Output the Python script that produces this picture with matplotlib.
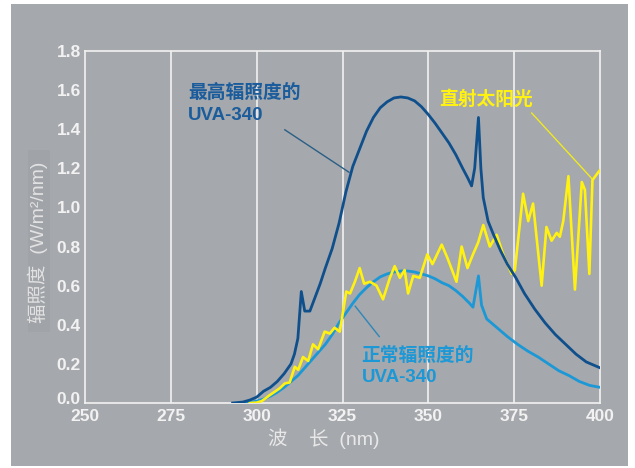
import matplotlib
matplotlib.use("Agg")
import matplotlib.pyplot as plt
import matplotlib.transforms as mtransforms
from matplotlib.patches import Rectangle

# ---------------- data ----------------
x_ticks = [250, 275, 300, 325, 350, 375, 400]
y_ticks = [0.0, 0.2, 0.4, 0.6, 0.8, 1.0, 1.2, 1.4, 1.6, 1.8]

# Peak irradiance UVA-340 (dark blue)
peak_wl = [293, 296, 298, 300, 301, 302, 304, 306, 308, 310, 311, 312, 313, 314,
           315.5, 317, 318.5, 320, 322, 324, 326, 328, 330, 332, 334, 336, 338,
           340, 342, 344, 346, 348, 350, 352, 354, 356, 358, 360, 361.5, 362.6,
           363.5, 364.6, 365.3, 366, 367.4, 369, 371, 373, 375.5, 378, 381, 384,
           387, 390, 393, 396, 400]
peak_val = [0.0, 0.005, 0.015, 0.03, 0.045, 0.06, 0.08, 0.11, 0.15, 0.2, 0.25,
            0.33, 0.57, 0.47, 0.47, 0.54, 0.61, 0.69, 0.79, 0.92, 1.08, 1.21,
            1.3, 1.39, 1.46, 1.51, 1.54, 1.56, 1.565, 1.56, 1.545, 1.515, 1.475,
            1.43, 1.38, 1.33, 1.27, 1.2, 1.15, 1.11, 1.2, 1.46, 1.2, 1.05, 0.93,
            0.86, 0.78, 0.71, 0.64, 0.56, 0.48, 0.41, 0.35, 0.3, 0.25, 0.21, 0.18]

# Normal irradiance UVA-340 (light blue)
norm_wl = [296, 298, 300, 302, 304, 306, 308, 310, 312, 314, 316, 318, 320, 322,
           324, 326, 328, 330, 332, 334, 336, 338, 340, 342, 344, 346, 348, 350,
           352, 354, 356, 358, 360, 362, 363, 364.6, 365.5, 367, 370, 373, 376,
           379, 382, 385, 388, 391, 394, 397, 400]
norm_val = [0.0, 0.003, 0.01, 0.02, 0.035, 0.055, 0.08, 0.11, 0.14, 0.18, 0.22,
            0.26, 0.3, 0.35, 0.41, 0.46, 0.51, 0.555, 0.59, 0.62, 0.645, 0.66,
            0.67, 0.675, 0.675, 0.67, 0.66, 0.65, 0.635, 0.615, 0.6, 0.575, 0.545,
            0.51, 0.49, 0.65, 0.5, 0.43, 0.385, 0.34, 0.3, 0.265, 0.235, 0.2,
            0.165, 0.14, 0.11, 0.09, 0.08]

# Direct sunlight (yellow)
sun_wl = [298, 300, 301.5, 303.8, 306.7, 308.2, 309.6, 311.1, 312.1, 313.5, 315,
          316.4, 317.9, 319.8, 321.3, 322.7, 324.2, 325.0, 326.1, 327.2, 328.6,
          330.0, 331.3, 333.0, 334.9, 336.8, 338.8, 340.2, 341.7, 343.1, 344.1,
          345.6, 347.5, 349.7, 351.2, 353.9, 355.6, 358.2, 359.7, 361.4, 363.0,
          364.5, 366.0, 367.9, 369.9, 372.0, 374.3, 375.2, 377.6, 379.1, 380.5,
          383.0, 384.4, 385.9, 387.4, 388.3, 389.3, 390.8, 392.7, 394.7, 395.6,
          396.9, 397.8, 399.5, 400]
sun_val = [0.0, 0.002, 0.01, 0.04, 0.075, 0.1, 0.105, 0.185, 0.17, 0.235, 0.215,
           0.3, 0.275, 0.365, 0.355, 0.385, 0.365, 0.45, 0.57, 0.56, 0.62, 0.69,
           0.61, 0.62, 0.6, 0.53, 0.64, 0.7, 0.64, 0.68, 0.56, 0.65, 0.64, 0.76,
           0.71, 0.81, 0.74, 0.62, 0.8, 0.69, 0.76, 0.82, 0.91, 0.8, 0.86, 0.75,
           0.66, 0.68, 1.07, 0.93, 1.02, 0.6, 0.9, 0.83, 0.87, 0.85, 0.93, 1.16,
           0.58, 1.13, 1.09, 0.66, 1.14, 1.18, 1.19]

# ---------------- style ----------------
BG = "#a5a8ac"
LINE_W = "#f2f2f2"
DARK = "#0f4f8c"
LIGHT = "#1c98d6"
YELLOW = "#fff212"
FONT = ["Liberation Sans", "Noto Sans CJK SC", "DejaVu Sans"]
plt.rcParams["font.family"] = FONT

W, H = 635, 468
fig = plt.figure(figsize=(W / 100, H / 100), dpi=100)
fig.patch.set_facecolor("white")
fig.patches.append(Rectangle((11 / W, 1 - 466 / H), (628 - 11) / W, (466 - 4) / H,
                             transform=fig.transFigure, facecolor=BG,
                             edgecolor="none", zorder=-10))
# subtle darker band behind the y-axis title
fig.patches.append(Rectangle((28 / W, 1 - 332 / H), 22 / W, (332 - 150) / H,
                             transform=fig.transFigure, facecolor="#a0a3a8",
                             edgecolor="none", zorder=-9))

ax = fig.add_axes([85 / W, 1 - 403 / H, 515 / W, 352 / H])
ax.set_zorder(5)
ax.set_facecolor("none")
ax.set_xlim(250, 400)
ax.set_ylim(0, 1.8)

for xv in x_ticks[1:-1]:
    ax.axvline(xv, color=LINE_W, lw=1.2, zorder=1)
for s in ax.spines.values():
    s.set_color(LINE_W)
    s.set_linewidth(1.2)

ax.set_xticks(x_ticks)
ax.set_xticklabels([str(v) for v in x_ticks])
ax.set_yticks(y_ticks)
ax.set_yticklabels([f"{v:.1f}" for v in y_ticks])
ax.tick_params(axis="both", length=0, colors="#f2f2f2", labelsize=12.5)
ax.tick_params(axis="x", pad=4.5)
ax.tick_params(axis="y", pad=3)
for lab in ax.get_xticklabels() + ax.get_yticklabels():
    lab.set_fontweight("bold")
# the "0.0" label sits just above the baseline in the reference
zero_lab = ax.get_yticklabels()[0]
zero_lab.set_transform(zero_lab.get_transform() +
                       mtransforms.ScaledTranslation(0, 5 / 100, fig.dpi_scale_trans))

ax.plot(norm_wl, norm_val, color=LIGHT, lw=2.0, zorder=3)
ax.plot(sun_wl, sun_val, color=YELLOW, lw=1.9, zorder=4)
ax.plot(peak_wl, peak_val, color=DARK, lw=2.0, zorder=5)

# annotations
ax.plot([308.2, 326.9], [1.397, 1.18], color="#2a5f85", lw=1.0, zorder=6)
ax.plot([328.7, 335.7], [0.495, 0.34], color="#2f86b8", lw=1.0, zorder=6)
ax.plot([380.1, 397.6], [1.483, 1.148], color="#f0ea20", lw=1.0, zorder=6)

ax.text(280.0, 1.585, "最高辐照度的", color="#1a5c9c", fontsize=13.5,
        fontweight="bold", va="center", ha="left", zorder=7)
ax.text(280.0, 1.47, "UVA-340", color="#1a5c9c", fontsize=13.5,
        fontweight="bold", va="center", ha="left", zorder=7)
ax.text(330.5, 0.24, "正常辐照度的", color=LIGHT, fontsize=13.5,
        fontweight="bold", va="center", ha="left", zorder=7)
ax.text(330.5, 0.13, "UVA-340", color=LIGHT, fontsize=13.5,
        fontweight="bold", va="center", ha="left", zorder=7)
ax.text(353.2, 1.55, "直射太阳光", color=YELLOW, fontsize=13.5,
        fontweight="bold", va="center", ha="left", zorder=7)

fig.text(324 / W, 1 - 439 / H, "波    长  (nm)", color="#e8e8e8", fontsize=14,
         ha="center", va="center")
fig.text(38 / W, 1 - 242 / H, "辐照度  (W/m²/nm)", color="#e2e2e2",
         fontsize=14, rotation=90, ha="center", va="center")

fig.savefig("out.png", dpi=100, facecolor=fig.get_facecolor())
